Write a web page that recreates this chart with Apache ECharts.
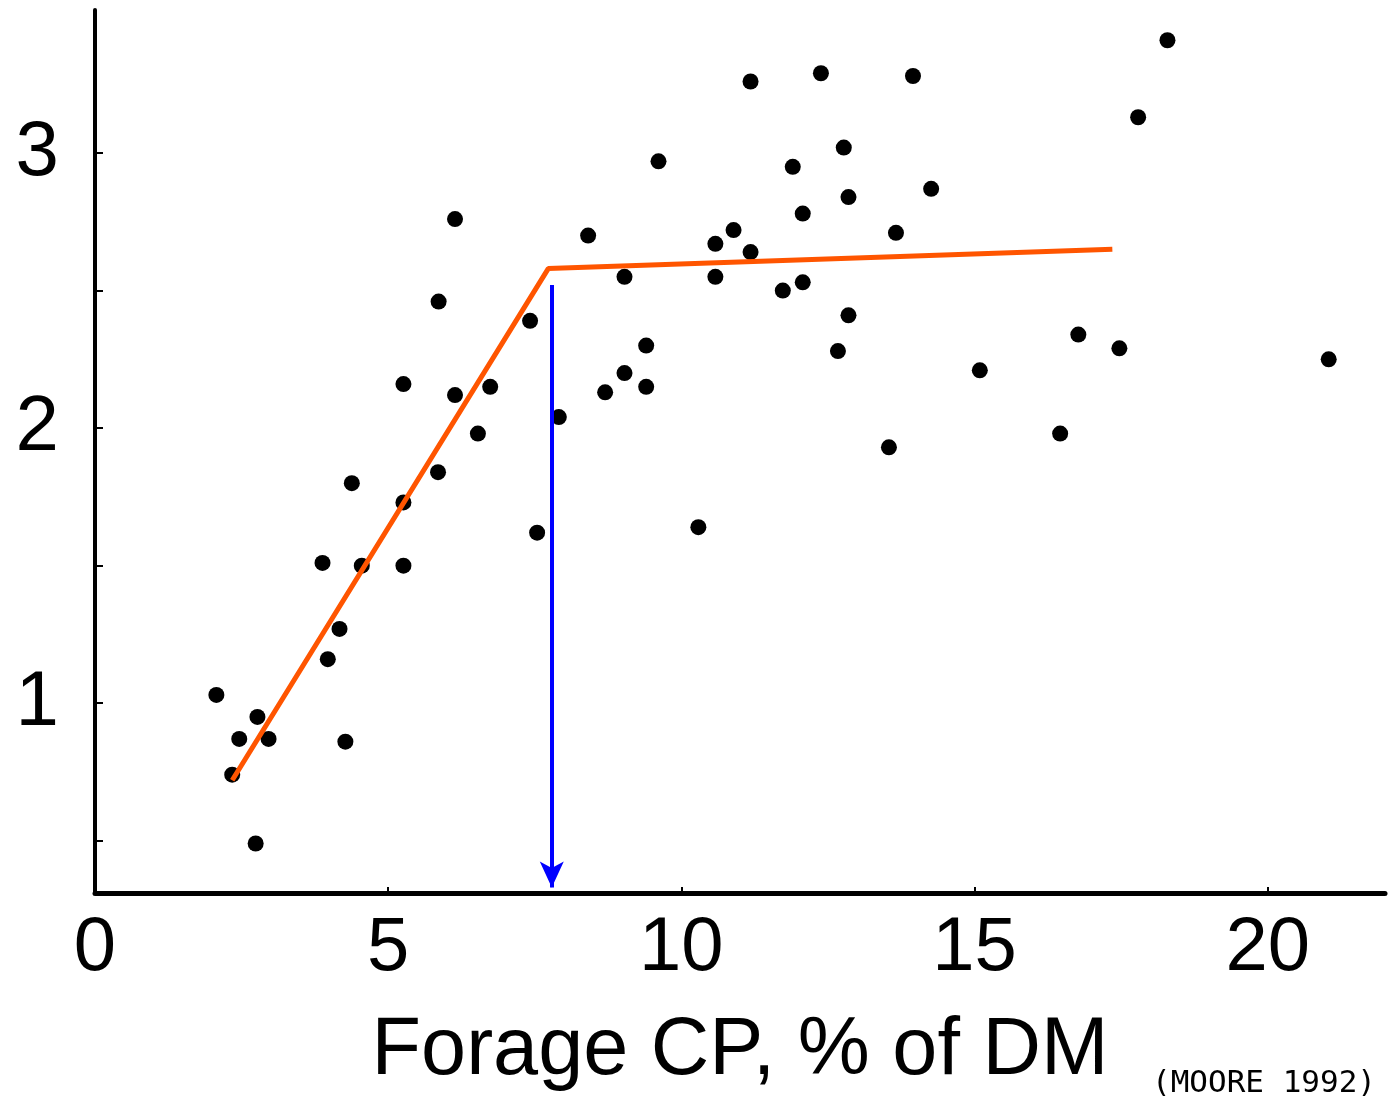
<!DOCTYPE html>
<html>
<head>
<meta charset="utf-8">
<script src="https://cdn.jsdelivr.net/npm/echarts@6/dist/echarts.min.js"></script>
<style>
  html, body { margin: 0; padding: 0; background: #fff; }
  #chart { width: 1390px; height: 1097px; }
</style>
</head>
<body>
<div id="chart"></div>
<script>
// forage crude protein (% of DM) and the response for each observation
const forageCP = [
  2.07, 2.46, 2.77, 2.96, 2.34, 2.74, 3.88, 3.97, 4.17, 4.27,
  4.38, 4.55, 5.26, 5.26, 5.26, 5.85, 5.86, 6.14, 6.14, 6.53,
  6.74, 7.42, 7.54, 7.91, 8.41, 8.70, 9.03, 9.03, 9.40, 9.40,
  9.61, 10.29, 10.58, 10.58, 10.89, 11.18, 11.18, 11.73, 11.90, 12.07,
  12.07, 12.38, 12.67, 12.77, 12.85, 12.85, 13.54, 13.66, 13.95, 14.26,
  15.09, 16.46, 16.77, 17.47, 17.79, 18.29, 21.04
];
const response = [
  1.03, 0.87, 0.95, 0.87, 0.74, 0.49, 1.51, 1.16, 1.27, 0.86,
  1.80, 1.50, 2.16, 1.73, 1.50, 1.84, 2.46, 2.76, 2.12, 1.98,
  2.15, 2.39, 1.62, 2.04, 2.70, 2.13, 2.55, 2.20, 2.30, 2.15,
  2.97, 1.64, 2.67, 2.55, 2.72, 3.26, 2.64, 2.50, 2.95, 2.78,
  2.53, 3.29, 2.28, 3.02, 2.84, 2.41, 1.93, 2.71, 3.28, 2.87,
  2.21, 1.98, 2.34, 2.29, 3.13, 3.41, 2.25
];

// broken-stick fit: start, breakpoint, end
const fitX = [2.34, 7.73, 17.35];
const fitY = [0.72, 2.58, 2.65];

// arrow dropped from the breakpoint to the x axis
const arrowX = 7.79;
const arrowY = [2.52, 0.33];

const xLabels = [0, 5, 10, 15, 20];
const yLabels = [1, 2, 3];
const yTicks = [0.5, 1, 1.5, 2, 2.5, 3];

const chart = echarts.init(document.getElementById('chart'));

const option = {
  animation: false,
  backgroundColor: '#fff',
  grid: { left: 95, right: 5, top: 10, bottom: 204 },
  xAxis: {
    type: 'value',
    min: 0,
    max: 22,
    axisLine: { lineStyle: { color: '#000', width: 5 } },
    axisTick: { show: true, inside: true, length: 6, customValues: xLabels, lineStyle: { color: '#000', width: 2 } },
    axisLabel: {
      customValues: xLabels,
      color: '#000',
      fontFamily: 'Liberation Sans',
      fontSize: 76,
      margin: 18
    },
    splitLine: { show: false },
    name: 'Forage CP, % of DM',
    nameLocation: 'middle',
    nameGap: 118,
    nameTextStyle: { color: '#000', fontFamily: 'Liberation Sans', fontSize: 81 }
  },
  yAxis: {
    type: 'value',
    min: 0.31,
    max: 3.52,
    axisLine: { show: true, lineStyle: { color: '#000', width: 4 } },
    axisTick: { show: true, inside: true, length: 8, customValues: yTicks, lineStyle: { color: '#000', width: 2 } },
    axisLabel: {
      customValues: yLabels,
      color: '#000',
      fontFamily: 'Liberation Sans',
      fontSize: 78,
      margin: 36
    },
    splitLine: { show: false }
  },
  graphic: [
    {
      type: 'text',
      left: 1152,
      top: 1068,
      style: { text: '(MOORE 1992)', font: '31px "DejaVu Sans Mono"', fill: '#000' }
    }
  ],
  series: [
    {
      type: 'scatter',
      data: forageCP.map((x, i) => [x, response[i]]),
      symbolSize: 16,
      itemStyle: { color: '#000', opacity: 1 },
      z: 2
    },
    {
      type: 'line',
      data: fitX.map((x, i) => [x, fitY[i]]),
      showSymbol: false,
      lineStyle: { color: '#ff5500', width: 5 },
      z: 3
    },
    {
      type: 'line',
      data: [],
      z: 4,
      markLine: {
        silent: true,
        symbol: ['none', 'arrow'],
        symbolSize: [18, 26],
        lineStyle: { color: '#0000ff', width: 4, type: 'solid' },
        label: { show: false },
        data: [[{ coord: [arrowX, arrowY[0]] }, { coord: [arrowX, arrowY[1]] }]]
      }
    }
  ]
};

chart.setOption(option);
</script>
</body>
</html>
